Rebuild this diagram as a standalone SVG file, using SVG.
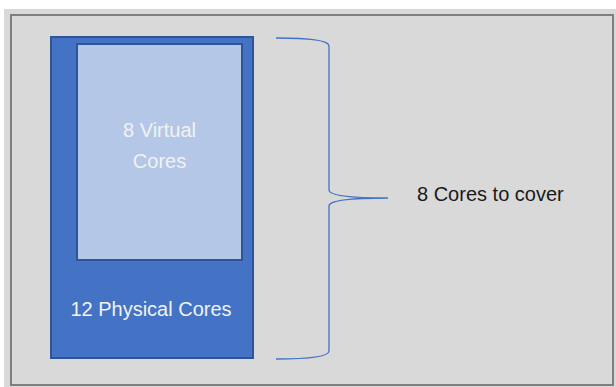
<svg xmlns="http://www.w3.org/2000/svg" width="616" height="387" viewBox="0 0 616 387">
<style>
.lbl{font-family:"Liberation Sans",Arial,sans-serif;font-size:20px;text-anchor:middle;fill:#f2f2f2}
.conn{fill:none;stroke:#4472c4;stroke-width:1.3}
</style>
<rect x="0" y="0" width="616" height="387" fill="#ffffff"/>
<g id="frame">
<rect x="4" y="9" width="612" height="378" fill="#d9d9d9"/>
<rect x="11" y="15" width="602" height="370" fill="none" stroke="#7f7f7f" stroke-width="2"/>
</g>
<g id="physical">
<rect x="51" y="37" width="202" height="321" fill="#4472c4" stroke="#2f5597" stroke-width="2"/>
<text class="lbl" x="151" y="316">12 Physical Cores</text>
</g>
<g id="virtual">
<rect x="77" y="44" width="165" height="216" fill="#b4c7e7" stroke="#2f5597" stroke-width="2"/>
<text class="lbl" x="159.5" y="137">8 Virtual</text>
<text class="lbl" x="159.5" y="168">Cores</text>
</g>
<g id="connectors">
<path class="conn" d="M276,38 Q329,38 329,46 V190 Q329,198 388,198 Q329,198 329,206 V351 Q329,359 276,359"/>
</g>
<g id="cover">
<text x="417" y="201" style="font-family:'Liberation Sans',Arial,sans-serif;font-size:20px;fill:#1a1a1a">8 Cores to cover</text>
</g>
</svg>
